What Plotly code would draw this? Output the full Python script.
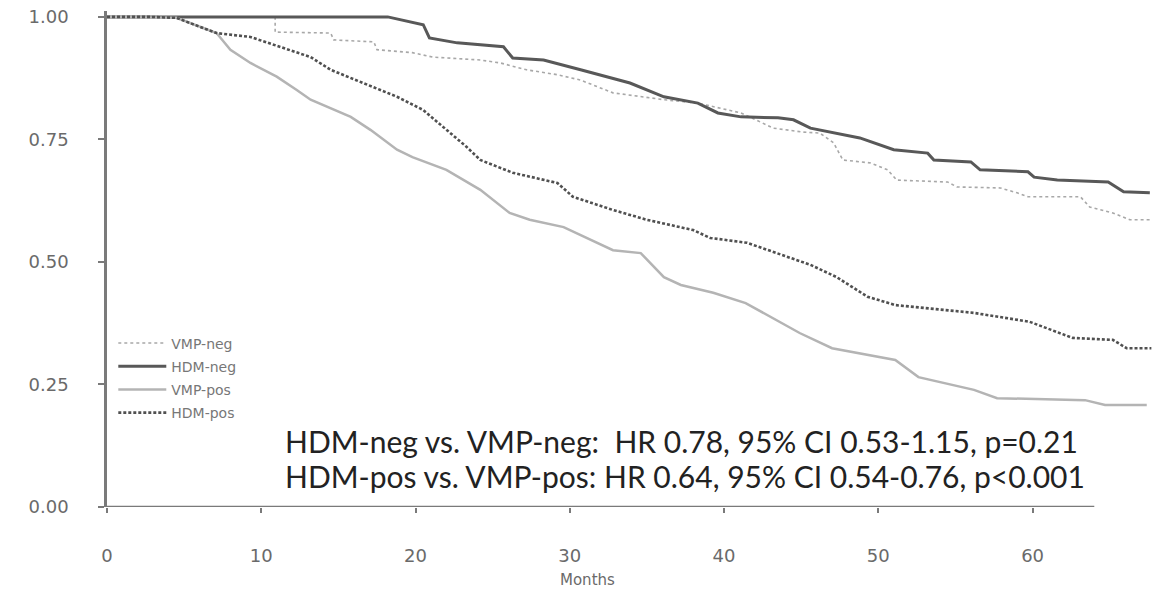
import plotly.graph_objects as go

# ---- Data ----
vmp_neg_months = [0, 10.9, 10.9, 14.5, 14.7, 17.3, 17.5, 19.8, 21.1, 24.2, 25.5, 27.2, 29.2, 30.7,
                  32.8, 34.6, 36.1, 38.3, 41.1, 43.2, 45.1, 46.2, 47.1, 47.7, 49.5, 50.6, 51.2,
                  54.5, 55.1, 57.9, 59.0, 59.7, 63.1, 63.7, 65.2, 66.3, 67.6]
vmp_neg_surv = [1.0, 1.0, 0.969, 0.967, 0.953, 0.949, 0.933, 0.927, 0.918, 0.912, 0.906, 0.892, 0.882, 0.871,
                0.845, 0.837, 0.831, 0.824, 0.804, 0.773, 0.765, 0.763, 0.743, 0.708, 0.702, 0.688, 0.667,
                0.663, 0.653, 0.651, 0.641, 0.633, 0.633, 0.612, 0.600, 0.586, 0.586]

hdm_neg_months = [0, 18.2, 20.5, 20.9, 22.7, 25.7, 26.3, 28.3, 30.7, 33.9, 36.1, 38.3, 39.6, 41.1,
                  43.5, 44.5, 45.6, 48.8, 51.0, 53.2, 53.6, 56.0, 56.6, 59.7, 60.1, 61.6, 64.9, 65.9, 67.6]
hdm_neg_surv = [1.0, 1.0, 0.984, 0.957, 0.947, 0.939, 0.916, 0.912, 0.892, 0.865, 0.837, 0.824, 0.804, 0.796,
                0.794, 0.790, 0.773, 0.753, 0.729, 0.722, 0.708, 0.704, 0.688, 0.684, 0.673, 0.667, 0.663, 0.643, 0.641]

vmp_pos_months = [0, 4.5, 7.1, 8.0, 9.3, 11.0, 12.3, 13.2, 15.8, 17.1, 18.8, 19.8, 22.0, 24.2, 26.1,
                  27.4, 29.6, 31.8, 32.8, 34.6, 36.1, 37.2, 39.3, 41.4, 44.9, 47.0, 51.1, 52.6, 56.2,
                  57.7, 63.4, 64.7, 67.4]
vmp_pos_surv = [1.0, 0.998, 0.967, 0.933, 0.906, 0.878, 0.851, 0.831, 0.796, 0.769, 0.729, 0.714, 0.688, 0.647, 0.600,
                0.586, 0.571, 0.539, 0.524, 0.518, 0.469, 0.453, 0.437, 0.416, 0.355, 0.324, 0.300, 0.265, 0.239,
                0.222, 0.218, 0.208, 0.208]

hdm_pos_months = [0, 2.8, 4.5, 7.1, 9.3, 11.4, 13.2, 14.5, 16.6, 18.8, 20.5, 22.0, 23.3, 24.2, 26.3,
                  29.2, 30.2, 32.8, 35.0, 38.0, 39.1, 41.5, 44.1, 45.6, 47.3, 49.3, 51.1, 56.2, 59.8,
                  62.6, 65.2, 66.1, 67.7]
hdm_pos_surv = [1.0, 1.0, 0.998, 0.967, 0.959, 0.937, 0.918, 0.892, 0.865, 0.837, 0.810, 0.769, 0.735, 0.708, 0.682,
                0.661, 0.633, 0.606, 0.586, 0.565, 0.549, 0.539, 0.510, 0.494, 0.469, 0.429, 0.412, 0.396, 0.378,
                0.345, 0.341, 0.324, 0.324]

x_ticks = [0, 10, 20, 30, 40, 50, 60]
y_ticks = [0.0, 0.25, 0.5, 0.75, 1.0]
y_tick_labels = ["0.00", "0.25", "0.50", "0.75", "1.00"]
x_axis_end = 64
annotation_lines = [
    "HDM-neg vs. VMP-neg:  HR 0.78, 95% CI 0.53-1.15, p=0.21",
    "HDM-pos vs. VMP-pos: HR 0.64, 95% CI 0.54-0.76, p<0.001",
]

fig = go.Figure()
fig.add_trace(go.Scatter(x=vmp_neg_months, y=vmp_neg_surv, mode="lines", name="VMP-neg",
                         legendgroup="a",
                         line=dict(color="#a8a8a8", width=1.6, dash="3px,3px")))
fig.add_trace(go.Scatter(x=hdm_neg_months, y=hdm_neg_surv, mode="lines", name="HDM-neg",
                         legendgroup="b",
                         line=dict(color="#585858", width=3)))
fig.add_trace(go.Scatter(x=vmp_pos_months, y=vmp_pos_surv, mode="lines", name="VMP-pos",
                         legendgroup="c",
                         line=dict(color="#b4b4b4", width=2.5)))
fig.add_trace(go.Scatter(x=hdm_pos_months, y=hdm_pos_surv, mode="lines", name="HDM-pos",
                         legendgroup="d",
                         line=dict(color="#505050", width=2.6, dash="3px,2px")))

# x-axis baseline (ends before the right edge, as in the original)
fig.add_shape(type="line", xref="x", yref="y", x0=0, x1=x_axis_end, y0=0, y1=0,
              line=dict(color="#7a7a7a", width=2.5))

tick_font = dict(family="DejaVu Sans", size=18, color="#6a6a6a")

fig.update_layout(
    width=1158, height=597,
    margin=dict(l=107, r=2, t=11, b=90),
    paper_bgcolor="white", plot_bgcolor="white",
    showlegend=True,
    legend=dict(x=0.006, y=0.362, xanchor="left", yanchor="top",
                font=dict(family="DejaVu Sans", size=14, color="#777777"),
                bgcolor="rgba(0,0,0,0)", tracegroupgap=2, itemwidth=48),
    xaxis=dict(range=[0, 68], tickvals=x_ticks, ticks="outside", ticklen=5, tickwidth=2,
               tickcolor="#7a7a7a", showline=False, showgrid=False, zeroline=False,
               tickfont=tick_font, ticklabelstandoff=27),
    yaxis=dict(range=[0, 1.012], tickvals=y_ticks, ticktext=y_tick_labels, ticks="outside",
               ticklen=6, tickwidth=2, tickcolor="#7a7a7a", showline=True, linecolor="#7a7a7a",
               linewidth=2.5, showgrid=False, zeroline=False, tickfont=tick_font,
               ticklabelstandoff=26),
)

fig.add_annotation(text="Months", xref="paper", yref="paper", x=0.458, y=-0.147,
                   xanchor="center", yanchor="middle", showarrow=False,
                   font=dict(family="DejaVu Sans", size=15, color="#6a6a6a"))

for i, line in enumerate(annotation_lines):
    fig.add_annotation(text=line, xref="paper", yref="paper", x=0.168, y=0.133 - i * 0.0705,
                       xanchor="left", yanchor="middle", showarrow=False,
                       font=dict(family="Lato", size=30, color="#222222"))

fig.write_html("out.html")
